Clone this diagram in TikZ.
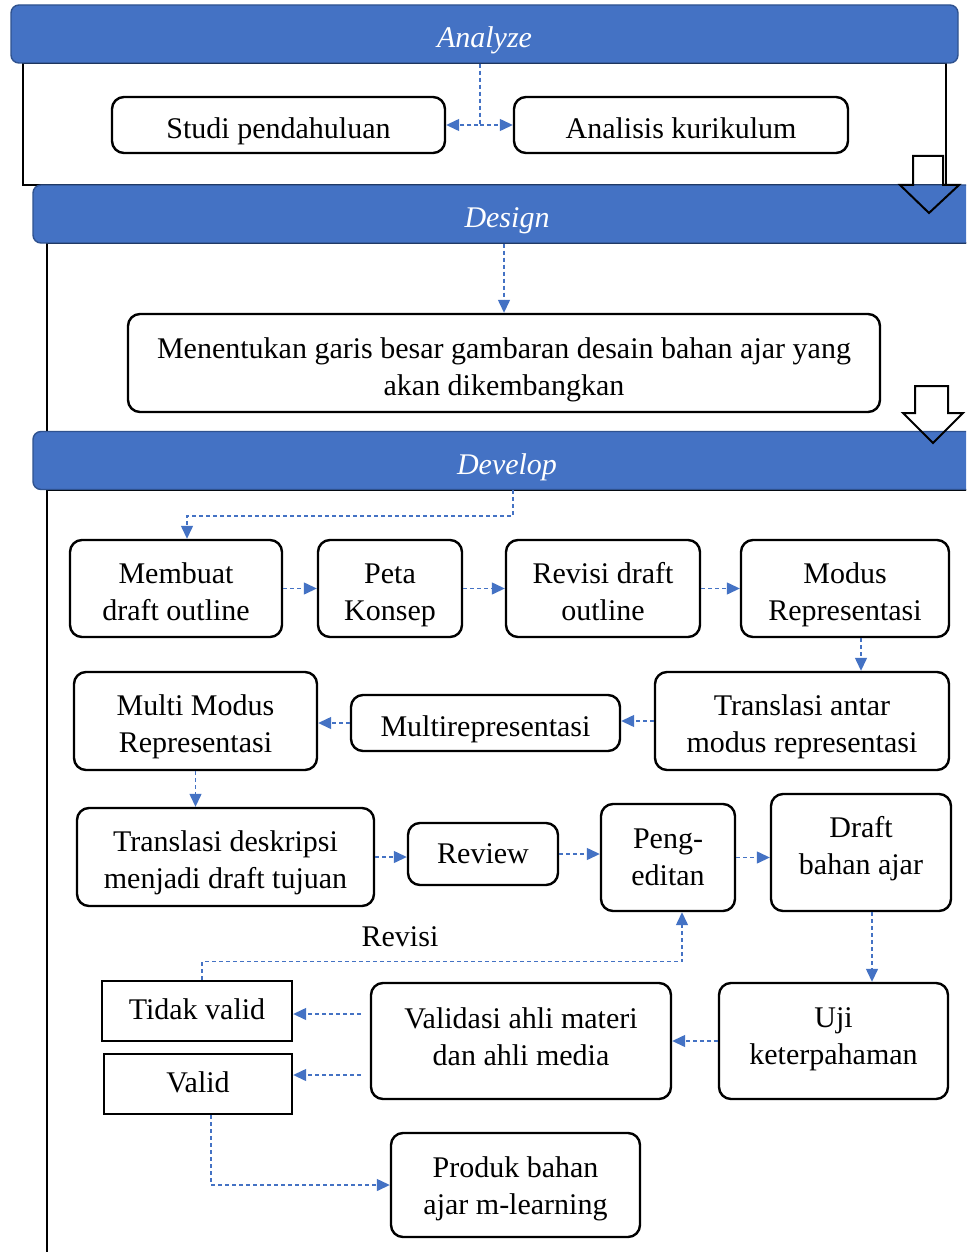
\documentclass[tikz,border=0pt]{standalone}
\usepackage{fontspec}
\setmainfont{Liberation Serif}
\usetikzlibrary{arrows.meta,positioning,calc}
\definecolor{hdrfill}{HTML}{4472C4}
\definecolor{hdredge}{HTML}{2F528F}
\definecolor{flow}{HTML}{4472C4}
\newcommand{\bodyfont}{\fontsize{30}{37}\selectfont}
\tikzset{
  hdr/.style={draw=hdredge,line width=1.4pt,fill=hdrfill,rounded corners=8pt,text=white,font=\bodyfont\itshape,minimum height=58pt,text height=27pt,text depth=0pt,inner sep=0pt},
  blk/.style={draw=black,line width=2.4pt,rounded corners=12pt,fill=white,align=center,inner sep=4pt,font=\bodyfont},
  sq/.style={draw=black,line width=2.4pt,fill=white,align=center,inner sep=4pt,font=\bodyfont},
  tdown/.style={execute at begin node={\rule{0pt}{#1}}},
  tup/.style={execute at end node={\rule[-#1]{0pt}{#1}}},
  frame/.style={draw=black,line width=2pt},
  barr/.style={draw=black,line width=2pt,line join=miter},
  fl/.style={-{Triangle[length=13pt,width=12pt]},draw=flow,line width=1.3pt,dash pattern=on 4pt off 3pt},
}

\begin{document}
\begin{tikzpicture}[x=1pt,y=-1pt]
\clip (0,0) rectangle (966,1252);
\fill[white] (0,0) rectangle (966,1252);
% section frames
\draw[frame] (23,63) rectangle (946,185);
\draw[frame] (47,243) rectangle (1010,1300);
\draw[frame] (47,490) rectangle (1010,1300);
% phase headers
\node[hdr,minimum width=947pt] (ana) at (484.5,34) {Analyze};
\node[hdr,minimum width=948pt] (des) at (507,214) {Design};
\node[hdr,minimum width=948pt] (dev) at (507,460.5) {Develop};
% block arrows between phases
\draw[barr] (913,156) -- (943,156) -- (943,185) -- (959,185) -- (929,213) -- (900,185) -- (913,185) -- cycle;
\draw[barr] (915,386) -- (948,386) -- (948,413) -- (963,413) -- (933,443) -- (903,413) -- (915,413) -- cycle;

% analyze
\node[blk,tdown=32.5pt,minimum width=333pt,minimum height=56pt] (stud) at (278.5,125) {Studi pendahuluan};
\node[blk,tdown=26.5pt,minimum width=334pt,minimum height=56pt] (kur) at (681,125) {Analisis kurikulum};
\coordinate (a1) at (480,125);
\draw[fl] (a1 |- ana.south) -- (a1) -- (stud.east); \draw[fl] (a1) -- (kur.west);

% design
\node[blk,tdown=71.5pt,minimum width=752pt,minimum height=98pt] (garis) at (504,363) {Menentukan garis besar gambaran desain bahan ajar yang\\akan dikembangkan};
\draw[fl] (garis.north |- des.south) -- (garis.north);

% develop
\node[blk,tdown=63.5pt,minimum width=212pt,minimum height=97pt] (mbt) at (176,588.5) {Membuat\\draft outline};
\node[blk,tdown=71pt,minimum width=144pt,minimum height=97pt] (peta) at (390,588.5) {Peta\\Konsep};
\node[blk,tdown=63.5pt,minimum width=194pt,minimum height=97pt] (rev) at (603,588.5) {Revisi draft\\outline};
\node[blk,tdown=69.5pt,minimum width=208pt,minimum height=97pt] (mod) at (845,588.5) {Modus\\Representasi};
\node[blk,tdown=69.5pt,minimum width=243pt,minimum height=98pt] (mm) at (195.5,721) {Multi Modus\\Representasi};
\node[blk,tdown=32.5pt,minimum width=269pt,minimum height=56pt] (mrep) at (485.5,723) {Multirepresentasi};
\node[blk,tdown=69.5pt,minimum width=294pt,minimum height=98pt] (tam) at (802,721) {Translasi antar\\modus representasi};
\node[blk,tdown=69.5pt,minimum width=297pt,minimum height=98pt] (tdj) at (225.5,857) {Translasi deskripsi\\menjadi draft tujuan};
\node[blk,minimum width=150pt,minimum height=62pt] (revw) at (483,854) {Review};
\node[blk,minimum width=134pt,minimum height=107pt] (peng) at (668,857.5) {Peng-\\editan};
\node[blk,tup=14.5pt,minimum width=180pt,minimum height=117pt] (draft) at (861,852.5) {Draft\\bahan ajar};
\node[sq,tup=4pt,minimum width=190pt,minimum height=60pt] (tv) at (197,1011) {Tidak valid};
\node[sq,tup=4pt,minimum width=188pt,minimum height=60pt] (val) at (198,1084) {Valid};
\node[blk,tup=8pt,minimum width=300pt,minimum height=116pt] (vam) at (521,1041) {Validasi ahli materi\\dan ahli media};
\node[blk,tup=10.5pt,minimum width=229pt,minimum height=116pt] (uji) at (833.5,1041) {Uji\\keterpahaman};
\node[blk,tdown=65.5pt,minimum width=249pt,minimum height=104pt] (prod) at (515.5,1185) {Produk bahan\\ajar m-learning};
\node[font=\bodyfont] (rvl) at (400,937) {Revisi};

\coordinate (d1) at (513,516);
\coordinate (md) at ($(mod.south)+(16,0)$);
\coordinate (dr) at ($(draft.south)+(11,0)$);
\draw[fl] (d1 |- dev.south) -- (d1) -| ([xshift=11pt]mbt.north);
\draw[fl] (mbt) -- (peta); \draw[fl] (peta) -- (rev); \draw[fl] (rev) -- (mod);
\draw[fl] (md) -- (md |- tam.north);
\draw[fl] (tam.west) -- (tam.west -| mrep.east); \draw[fl] (mrep.west) -- (mrep.west -| mm.east);
\draw[fl] (mm.south) -- (mm.south |- tdj.north);
\draw[fl] (tdj.east) -- (tdj.east -| revw.west); \draw[fl] (revw.east) -- (revw.east -| peng.west);
\draw[fl] (peng.east) -- (peng.east -| draft.west);
\draw[fl] (dr) -- (dr |- uji.north);
\draw[fl] (uji.west) -- (vam.east);
\draw[fl] ($(vam.west |- tv.east)+(-9,3)$) -- ($(tv.east)+(0,3)$);
\draw[fl] ($(vam.west |- val.east)+(-9,-9)$) -- ($(val.east)+(0,-9)$);
\draw[fl] ($(tv.north)+(5,0)$) -- ++(0,-18) -| ($(peng.south)+(14,0)$);
\draw[fl] ($(val.south)+(13,0)$) |- (prod.west);
\end{tikzpicture}
\end{document}
